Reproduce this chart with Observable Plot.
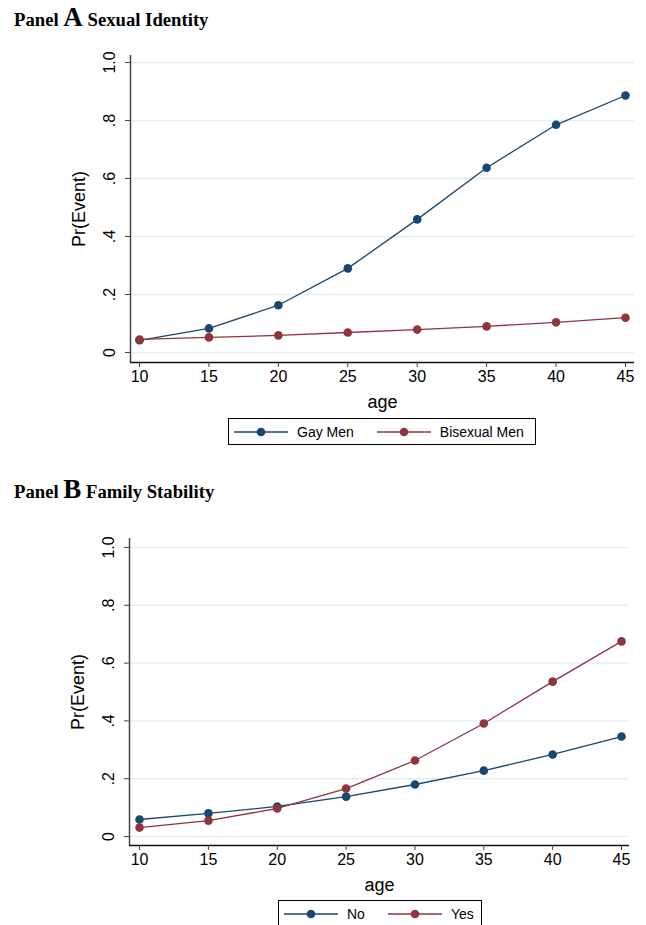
<!DOCTYPE html>
<html><head><meta charset="utf-8">
<script src="https://cdn.jsdelivr.net/npm/d3@7"></script>
<script src="https://cdn.jsdelivr.net/npm/@observablehq/plot@0.6"></script>
<style>
body{margin:0;background:#fff;width:646px;height:925px;position:relative;overflow:hidden;font-family:"Liberation Sans",Arial,sans-serif}
.title{position:absolute;left:14px;font-family:"Liberation Serif","Times New Roman",serif;font-weight:bold;font-size:18.7px;color:#000;white-space:nowrap;line-height:1}
.title .big{font-size:27px}
.chart{position:absolute;left:0}
.chart svg g[aria-label="y-axis label"], .chart svg g[aria-label="x-axis label"]{font-size:18px}
.legend{position:absolute;border:1px solid #000;height:27px;box-sizing:border-box;display:flex;align-items:center;font-size:14px;padding-left:4px;background:#fff}
.legend .item{display:flex;align-items:center;margin-right:22px}
.legend .item:last-child{margin-right:0}
.legend .item span{margin-left:8px}
</style>
</head><body>
<div class="title" id="titleA" style="top:4px">Panel <span class="big">A</span> Sexual Identity</div>
<div class="chart" id="chartA" style="top:40px"></div>
<div class="legend" id="legendA" style="top:418px;left:228px;width:308px"></div>
<div class="title" id="titleB" style="top:476px">Panel <span class="big">B</span> Family Stability</div>
<div class="chart" id="chartB" style="top:523px"></div>
<div class="legend" id="legendB" style="top:900px;left:278px;width:204px"></div>
<script>
const ages = [10, 15, 20, 25, 30, 35, 40, 45];
const yTicks = [0, 0.2, 0.4, 0.6, 0.8, 1.0];
const yTickLabels = ["0", ".2", ".4", ".6", ".8", "1.0"];
const xTicks = [10, 15, 20, 25, 30, 35, 40, 45];

// Panel A: Sexual Identity
const seriesA = ["Gay Men", "Bisexual Men"];
const gayMen = [0.042, 0.083, 0.163, 0.290, 0.459, 0.637, 0.785, 0.886];
const bisexualMen = [0.045, 0.052, 0.059, 0.069, 0.079, 0.090, 0.104, 0.120];

// Panel B: Family Stability
const seriesB = ["No", "Yes"];
const stableNo = [0.059, 0.080, 0.104, 0.138, 0.180, 0.228, 0.284, 0.346];
const stableYes = [0.031, 0.055, 0.097, 0.166, 0.263, 0.391, 0.536, 0.675];

const colors = ["#1a476f", "#90353b"];

function tidy(names, arrays) {
  return names.flatMap((n, j) => ages.map((a, i) => ({age: a, value: arrays[j][i], group: n})));
}

function makeChart(data, names, xDomain, yDomain, marginLeft, marginRight) {
  return Plot.plot({
    width: 646,
    height: 376,
    marginTop: 15,
    marginBottom: 54,
    marginLeft,
    marginRight,
    style: {fontFamily: "'Liberation Sans', Arial, sans-serif", fontSize: "16px", color: "#000", background: "transparent"},
    x: {domain: xDomain},
    y: {domain: yDomain},
    color: {domain: names, range: colors},
    marks: [
      Plot.gridY(yTicks, {stroke: "#e3eef0", strokeOpacity: 1, strokeWidth: 1.4}),
      Plot.ruleX([xDomain[0]], {stroke: "#444", strokeWidth: 1.5}),
      Plot.ruleY([yDomain[0]], {stroke: "#111", strokeWidth: 1.4}),
      Plot.axisY(yTicks, {
        tickRotate: -90, tickSize: 5, tickPadding: 11, stroke: "#444",
        tickFormat: d => yTickLabels[yTicks.indexOf(d)],
        label: "Pr(Event)", labelAnchor: "center", labelArrow: "none", labelOffset: 58
      }),
      Plot.axisX(xTicks, {
        tickSize: 5, tickPadding: 3, stroke: "#444",
        label: "age", labelAnchor: "center", labelArrow: "none", labelOffset: 45
      }),
      Plot.line(data, {x: "age", y: "value", z: "group", stroke: "group", strokeWidth: 1.3}),
      Plot.dot(data, {x: "age", y: "value", fill: "group", r: 4.3})
    ]
  });
}

document.getElementById("chartA").append(
  makeChart(tidy(seriesA, [gayMen, bisexualMen]), seriesA, [9.35, 45.65], [-0.0345, 1.024], 130, 12)
);
document.getElementById("chartB").append(
  makeChart(tidy(seriesB, [stableNo, stableYes]), seriesB, [9.27, 45.58], [-0.031, 1.031], 129, 17)
);

function legend(el, names) {
  names.forEach((n, i) => {
    const item = document.createElement("div");
    item.className = "item";
    item.innerHTML = `<svg width="56" height="12"><line x1="1" x2="55" y1="6" y2="6" stroke="${colors[i]}" stroke-width="1.5"/><circle cx="28" cy="6" r="4.3" fill="${colors[i]}"/></svg><span>${n}</span>`;
    el.append(item);
  });
}
legend(document.getElementById("legendA"), seriesA);
legend(document.getElementById("legendB"), seriesB);
</script>
</body></html>
